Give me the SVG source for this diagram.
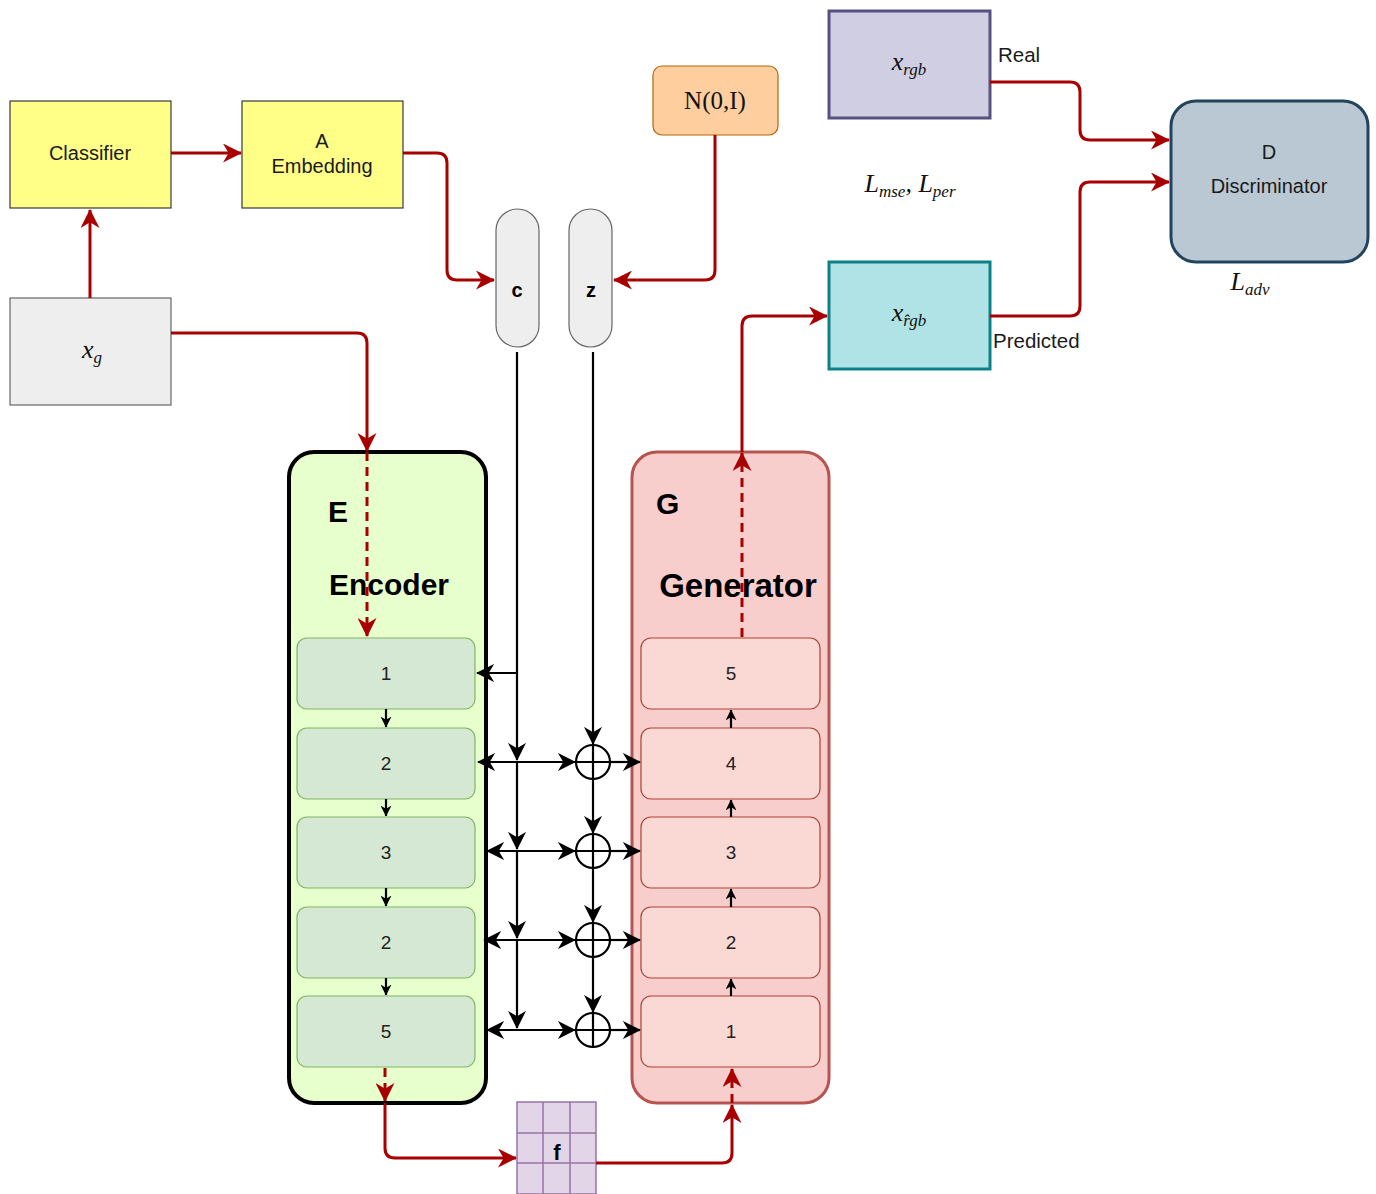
<svg xmlns="http://www.w3.org/2000/svg" width="1376" height="1194" viewBox="0 0 1376 1194">
<style>
.lbl{font-family:"Liberation Sans",Arial,sans-serif;font-size:20px;fill:#1a1a1a;text-anchor:middle}
.num{font-family:"Liberation Sans",Arial,sans-serif;font-size:19px;fill:#222;text-anchor:middle}
.big{font-family:"Liberation Sans",Arial,sans-serif;font-weight:bold;fill:#000}
.math{font-family:"Liberation Serif","DejaVu Serif",serif;font-style:italic;font-size:26px;fill:#111;text-anchor:middle}
.red{fill:none;stroke:#a80000;stroke-width:3}
.redd{fill:none;stroke:#a80000;stroke-width:3;stroke-dasharray:9 6}
.blk{fill:none;stroke:#000;stroke-width:2.2}
.eb{fill:#d5e8d4;stroke:#82b366;stroke-width:1.2}
.gb{fill:#fad9d5;stroke:#ae4132;stroke-width:1.2}
</style>
<defs>
<marker id="ar" viewBox="0 0 10 10" refX="9.5" refY="5" markerWidth="19" markerHeight="19" markerUnits="userSpaceOnUse" orient="auto-start-reverse"><path d="M0,0 L10,5 L0,10 L3,5 z" fill="#a80000"/></marker>
<marker id="ab" viewBox="0 0 10 10" refX="9.5" refY="5" markerWidth="18" markerHeight="18" markerUnits="userSpaceOnUse" orient="auto-start-reverse"><path d="M0,0 L10,5 L0,10 L3,5 z" fill="#000"/></marker>
<marker id="as" viewBox="0 0 10 10" refX="9.5" refY="5" markerWidth="11" markerHeight="11" markerUnits="userSpaceOnUse" orient="auto-start-reverse"><path d="M0,0 L10,5 L0,10 L3,5 z" fill="#000"/></marker>
</defs>
<rect width="1376" height="1194" fill="#fff"/>

<g id="classifier"><rect x="10" y="101" width="161" height="107" fill="#ffff88" stroke="#36393d" stroke-width="1.2"/><text class="lbl" x="90" y="160">Classifier</text></g>
<g id="embedding"><rect x="242" y="101" width="161" height="107" fill="#ffff88" stroke="#36393d" stroke-width="1.2"/><text class="lbl" x="322" y="148" font-size="19">A</text><text class="lbl" x="322" y="173" font-size="19">Embedding</text></g>
<g id="xg"><rect x="10" y="298" width="161" height="107" fill="#eeeeee" stroke="#666" stroke-width="1.2"/><text class="math" x="92" y="358">x<tspan font-size="17" dy="5">g</tspan></text></g>
<g id="c"><rect x="496" y="209" width="43" height="138" rx="21.5" fill="#eeeeee" stroke="#666" stroke-width="1.2"/><text class="big" x="517" y="297" font-size="20" text-anchor="middle">c</text></g>
<g id="z"><rect x="569" y="209" width="43" height="138" rx="21.5" fill="#eeeeee" stroke="#666" stroke-width="1.2"/><text class="big" x="591" y="297" font-size="20" text-anchor="middle">z</text></g>
<g id="noise"><rect x="653" y="66" width="125" height="69" rx="9" fill="#ffce9f" stroke="#b46504" stroke-width="1.2"/><text x="715" y="109" font-family="'Liberation Serif',serif" font-size="25" text-anchor="middle" fill="#111">N(0,I)</text></g>
<g id="xrgb"><rect x="829" y="11" width="161" height="107" fill="#d0cee2" stroke="#56517e" stroke-width="3"/><text class="math" x="909" y="70">x<tspan font-size="17" dy="5">rgb</tspan></text></g>
<g id="xrgbhat"><rect x="829" y="262" width="161" height="107" fill="#b0e3e6" stroke="#0e8088" stroke-width="3"/><text class="math" x="909" y="321">x<tspan font-size="17" dy="5">r̂gb</tspan></text></g>
<g id="disc"><rect x="1171" y="101" width="197" height="161" rx="25" fill="#bac8d3" stroke="#23445d" stroke-width="3"/><text class="lbl" x="1269" y="159">D</text><text class="lbl" x="1269" y="193">Discriminator</text></g>
<g id="labels">
<text class="lbl" x="998" y="62" style="text-anchor:start;font-size:20.5px">Real</text>
<text class="lbl" x="993" y="348" style="text-anchor:start;font-size:20.5px">Predicted</text>
<text class="math" x="910" y="192">L<tspan font-size="17" dy="5">mse</tspan><tspan dy="-5">, L</tspan><tspan font-size="17" dy="5">per</tspan></text>
<text class="math" x="1250" y="290">L<tspan font-size="17" dy="5">adv</tspan></text>
</g>

<g id="encoder">
<rect x="289" y="452" width="197" height="651" rx="25" fill="#e6ffcc" stroke="#000" stroke-width="4"/>
<text class="big" x="328" y="522" font-size="30">E</text>
<text class="big" x="389" y="595" font-size="30" text-anchor="middle">Encoder</text>
<rect class="eb" x="297" y="638" width="178" height="71" rx="10"/><text class="num" x="386" y="680">1</text>
<rect class="eb" x="297" y="728" width="178" height="71" rx="10"/><text class="num" x="386" y="770">2</text>
<rect class="eb" x="297" y="817" width="178" height="71" rx="10"/><text class="num" x="386" y="859">3</text>
<rect class="eb" x="297" y="907" width="178" height="71" rx="10"/><text class="num" x="386" y="949">2</text>
<rect class="eb" x="297" y="996" width="178" height="71" rx="10"/><text class="num" x="386" y="1038">5</text>
</g>
<g id="generator">
<rect x="632" y="452" width="197" height="651" rx="25" fill="#f8cecc" stroke="#b85450" stroke-width="3"/>
<text class="big" x="656" y="514" font-size="30">G</text>
<text class="big" x="738" y="597" font-size="33" text-anchor="middle">Generator</text>
<rect class="gb" x="641" y="638" width="179" height="71" rx="10"/><text class="num" x="731" y="680">5</text>
<rect class="gb" x="641" y="728" width="179" height="71" rx="10"/><text class="num" x="731" y="770">4</text>
<rect class="gb" x="641" y="817" width="179" height="71" rx="10"/><text class="num" x="731" y="859">3</text>
<rect class="gb" x="641" y="907" width="179" height="71" rx="10"/><text class="num" x="731" y="949">2</text>
<rect class="gb" x="641" y="996" width="179" height="71" rx="10"/><text class="num" x="731" y="1038">1</text>
</g>
<g id="f">
<rect x="517" y="1102" width="79" height="92" fill="#e1d5e7" stroke="#9673a6" stroke-width="1.5"/>
<path d="M543,1102 V1194 M570,1102 V1194 M517,1133 H596 M517,1163 H596" stroke="#9673a6" stroke-width="1.5" fill="none"/>
<text class="big" x="557" y="1160" font-size="22" text-anchor="middle">f</text>
</g>
<g id="sums" fill="none" stroke="#000" stroke-width="2.2">
<circle cx="593" cy="762" r="17"/><path d="M576,762 H610 M593,745 V779"/>
<circle cx="593" cy="851" r="17"/><path d="M576,851 H610 M593,834 V868"/>
<circle cx="593" cy="940" r="17"/><path d="M576,940 H610 M593,923 V957"/>
<circle cx="593" cy="1030" r="17"/><path d="M576,1030 H610 M593,1013 V1047"/>
</g>

<g id="connectors">
<path class="red" d="M90,298 V210" marker-end="url(#ar)"/>
<path class="red" d="M171,153 H241" marker-end="url(#ar)"/>
<path class="red" d="M403,153 H437 Q447,153 447,163 V270 Q447,280 457,280 H494" marker-end="url(#ar)"/>
<path class="red" d="M715,135 V270 Q715,280 705,280 H614" marker-end="url(#ar)"/>
<path class="red" d="M171,333 H357 Q367,333 367,343 V451" marker-end="url(#ar)"/>
<path class="redd" d="M367,452 V636" marker-end="url(#ar)"/>
<path class="red" d="M990,82 H1070 Q1080,82 1080,92 V130 Q1080,140 1090,140 H1169" marker-end="url(#ar)"/>
<path class="red" d="M990,316 H1070 Q1080,316 1080,306 V192 Q1080,182 1090,182 H1169" marker-end="url(#ar)"/>
<path class="redd" d="M742,637 V453" marker-end="url(#ar)"/>
<path class="red" d="M742,452 V326 Q742,316 752,316 H827" marker-end="url(#ar)"/>
<path class="redd" d="M385,1068 V1101" marker-end="url(#ar)"/>
<path class="red" d="M385,1103 V1148 Q385,1158 395,1158 H516" marker-end="url(#ar)"/>
<path class="red" d="M596,1163 H722 Q732,1163 732,1153 V1105" marker-end="url(#ar)"/>
<path class="redd" d="M732,1103 V1069" marker-end="url(#ar)"/>

<path class="blk" d="M517,352 V760" marker-end="url(#ab)"/>
<path class="blk" d="M517,762 V849" marker-end="url(#ab)"/>
<path class="blk" d="M517,851 V938" marker-end="url(#ab)"/>
<path class="blk" d="M517,940 V1028" marker-end="url(#ab)"/>
<path class="blk" d="M517,673 H477" marker-end="url(#ab)"/>
<path class="blk" d="M478,762 H575" marker-start="url(#ab)" marker-end="url(#ab)"/>
<path class="blk" d="M487,851 H575" marker-start="url(#ab)" marker-end="url(#ab)"/>
<path class="blk" d="M484,940 H575" marker-start="url(#ab)" marker-end="url(#ab)"/>
<path class="blk" d="M487,1030 H575" marker-start="url(#ab)" marker-end="url(#ab)"/>
<path class="blk" d="M593,352 V744" marker-end="url(#ab)"/>
<path class="blk" d="M593,779 V833" marker-end="url(#ab)"/>
<path class="blk" d="M593,868 V922" marker-end="url(#ab)"/>
<path class="blk" d="M593,957 V1012" marker-end="url(#ab)"/>
<path class="blk" d="M610,762 H640" marker-end="url(#ab)"/>
<path class="blk" d="M610,851 H640" marker-end="url(#ab)"/>
<path class="blk" d="M610,940 H640" marker-end="url(#ab)"/>
<path class="blk" d="M610,1030 H640" marker-end="url(#ab)"/>
<path class="blk" d="M386,709 V727" marker-end="url(#as)"/>
<path class="blk" d="M386,799 V816" marker-end="url(#as)"/>
<path class="blk" d="M386,888 V906" marker-end="url(#as)"/>
<path class="blk" d="M386,978 V995" marker-end="url(#as)"/>
<path class="blk" d="M731,728 V710" marker-end="url(#as)"/>
<path class="blk" d="M731,817 V800" marker-end="url(#as)"/>
<path class="blk" d="M731,907 V889" marker-end="url(#as)"/>
<path class="blk" d="M731,996 V979" marker-end="url(#as)"/>
</g>
</svg>
